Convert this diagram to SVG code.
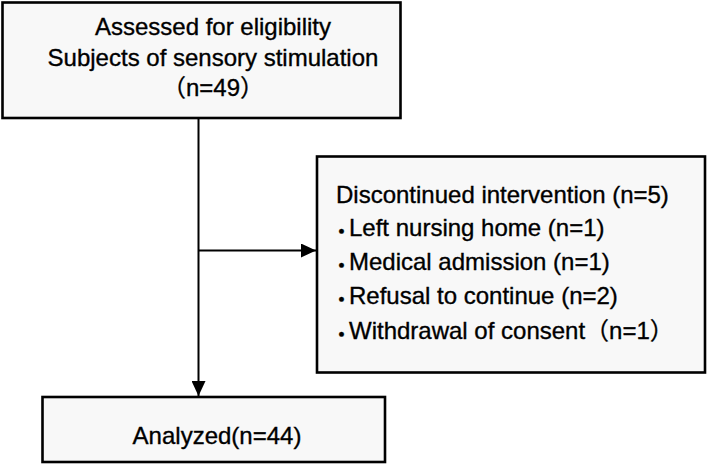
<svg xmlns="http://www.w3.org/2000/svg" width="709" height="465" viewBox="0 0 709 465">
  <style>
    .box { fill: #f8f8f8; stroke: #000; stroke-width: 2.6; }
    .lbl { font-family: "Liberation Sans", "Noto Sans CJK JP", Arial, sans-serif; font-size: 24px; fill: #000; stroke: #000; stroke-width: 0.35; }
    .mid { text-anchor: middle; }
    .bul { font-family: "Noto Sans CJK JP", sans-serif; font-size: 24px; font-weight: bold; }
    .conn { stroke: #000; stroke-width: 2; fill: none; marker-end: url(#arrow); }
  </style>
  <defs>
    <marker id="arrow" markerUnits="userSpaceOnUse" markerWidth="15" markerHeight="14" viewBox="0 0 15 14" refX="15" refY="7" orient="auto">
      <path d="M0,0 L15,7 L0,14 Z" fill="#000"/>
    </marker>
  </defs>
  <rect width="709" height="465" fill="#ffffff"/>

  <g id="connectors">
    <line class="conn" x1="198.5" y1="118" x2="198.5" y2="396"/>
    <line class="conn" x1="198.5" y1="250.5" x2="316" y2="250.5"/>
  </g>

  <g id="node-assessed">
    <rect class="box" x="2.5" y="2.5" width="398" height="115.5"/>
    <text class="lbl mid" x="213" y="35">Assessed for eligibility</text>
    <text class="lbl mid" x="213" y="66">Subjects of sensory stimulation</text>
    <text class="lbl mid" x="213" y="96">（n=49）</text>
  </g>

  <g id="node-discontinued">
    <rect class="box" x="317" y="156.5" width="388" height="216"/>
    <text class="lbl" x="336" y="202.5">Discontinued intervention (n=5)</text>
    <text class="lbl"><tspan class="bul" x="335.5" y="240">･</tspan><tspan x="349" y="236">Left nursing home (n=1)</tspan></text>
    <text class="lbl"><tspan class="bul" x="335.5" y="274">･</tspan><tspan x="349" y="270">Medical admission (n=1)</tspan></text>
    <text class="lbl"><tspan class="bul" x="335.5" y="308">･</tspan><tspan x="349" y="304">Refusal to continue (n=2)</tspan></text>
    <text class="lbl"><tspan class="bul" x="335.5" y="343">･</tspan><tspan x="349" y="339">Withdrawal of consent（n=1）</tspan></text>
  </g>

  <g id="node-analyzed">
    <rect class="box" x="42.5" y="397" width="342.5" height="65"/>
    <text class="lbl mid" x="217" y="444">Analyzed(n=44)</text>
  </g>
</svg>
